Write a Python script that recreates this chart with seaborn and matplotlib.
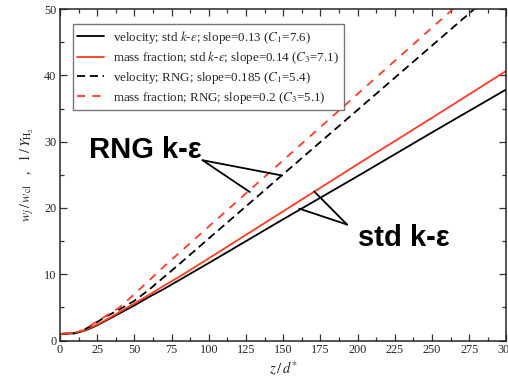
import numpy as np
import pandas as pd
import matplotlib
matplotlib.use("Agg")
import matplotlib.pyplot as plt
import seaborn as sns

# ---- data ----
z_pts = [0, 10, 15, 20, 25, 30, 40, 50, 60, 70, 80, 100, 150, 200, 250, 300]
vel_std = [1.0, 1.1, 1.4, 1.8, 2.3, 2.9, 4.1, 5.3, 6.6, 7.8, 9.1, 11.7, 18.3, 24.8, 31.4, 37.9]
mf_std = [1.0, 1.15, 1.45, 1.9, 2.4, 3.0, 4.3, 5.6, 6.9, 8.3, 9.6, 12.4, 19.5, 26.6, 33.6, 40.7]
vel_rng = [1.0, 1.1, 1.5, 2.1, 2.8, 3.5, 4.7, 6.0, 7.7, 9.6, 11.5, 15.4, 25.1, 34.8, 44.5, 54.2]
mf_rng = [1.0, 1.15, 1.55, 2.2, 2.9, 3.6, 5.0, 7.0, 9.1, 11.2, 13.2, 17.2, 27.2, 37.2, 47.2, 57.2]

labels = [
    r"velocity; std $k$-$\varepsilon$; slope=0.13 ($C_1$=7.6)",
    r"mass fraction; std $k$-$\varepsilon$; slope=0.14 ($C_3$=7.1)",
    r"velocity; RNG; slope=0.185 ($C_1$=5.4)",
    r"mass fraction; RNG; slope=0.2 ($C_3$=5.1)",
]
xticks = [0, 25, 50, 75, 100, 125, 150, 175, 200, 225, 250, 275, 300]
yticks = [0, 10, 20, 30, 40, 50]

RED = "#ff3b1f"
colors = ["black", RED, "black", RED]
dashes = [None, None, (4.5, 2.6), (4.5, 4.0)]

sns.set_style("ticks")
plt.rcParams["font.family"] = ["Liberation Serif", "DejaVu Serif"]
plt.rcParams["mathtext.fontset"] = "stix"

fig = plt.figure(figsize=(5.08, 3.78), dpi=100)
ax = fig.add_axes([0.118, 0.099, 0.879, 0.877])

series = [vel_std, mf_std, vel_rng, mf_rng]
for ys, lab, c, d in zip(series, labels, colors, dashes):
    df = pd.DataFrame({"z": z_pts, "y": ys})
    sns.lineplot(data=df, x="z", y="y", ax=ax, color=c, linewidth=1.3,
                 label=lab, estimator=None, sort=False)
    ln = ax.get_lines()[-1]
    if d is not None:
        ln.set_dashes(d)

ax.set_xlim(0, 300)
ax.set_ylim(0, 50)
ax.set_xticks(xticks)
ax.set_yticks(yticks)
ax.set_xticks(np.arange(12.5, 300, 25), minor=True)
ax.set_yticks(np.arange(5, 50, 10), minor=True)
ax.tick_params(which="both", direction="in", top=True, right=True,
               labelsize=8.8, pad=2.5, width=0.9, color="#333333")
ax.tick_params(which="major", length=5)
ax.tick_params(which="minor", length=3)
for s in ax.spines.values():
    s.set_linewidth(1.1)
    s.set_visible(True)

ax.set_xlabel(r"$z\,/\,d^{*}$", fontsize=10.5, labelpad=2)
ax.set_ylabel(r"$w_j\,/\,w_{\rm cl}$   ,   $1\,/\,Y_{\rm H_2}$", fontsize=10, labelpad=6)

leg = ax.legend(loc="upper left", bbox_to_anchor=(0.029, 0.955), borderaxespad=0,
                fontsize=9.4, frameon=True, fancybox=False, handlelength=2.0,
                handletextpad=0.75, labelspacing=0.28, borderpad=0.35)
leg.get_frame().set_edgecolor("#555555")
leg.get_frame().set_linewidth(1.0)

# annotations
ax.text(95.5, 27.6, "RNG k-ε", fontsize=21, fontweight="bold", family="Liberation Sans",
        ha="right", va="baseline", color="black")
for end in [(149.2, 24.9), (127.6, 22.4)]:
    ax.annotate("", xy=end, xytext=(95.8, 27.2),
                arrowprops=dict(arrowstyle="-", color="black", lw=1.3, shrinkA=0, shrinkB=0))
ax.text(200, 14.3, "std k-ε", fontsize=21, fontweight="bold", family="Liberation Sans",
        ha="left", va="baseline", color="black")
for end in [(170.8, 22.5), (160.8, 19.9)]:
    ax.annotate("", xy=end, xytext=(192.9, 17.5),
                arrowprops=dict(arrowstyle="-", color="black", lw=1.3, shrinkA=0, shrinkB=0))

fig.savefig("out.png", dpi=100)
